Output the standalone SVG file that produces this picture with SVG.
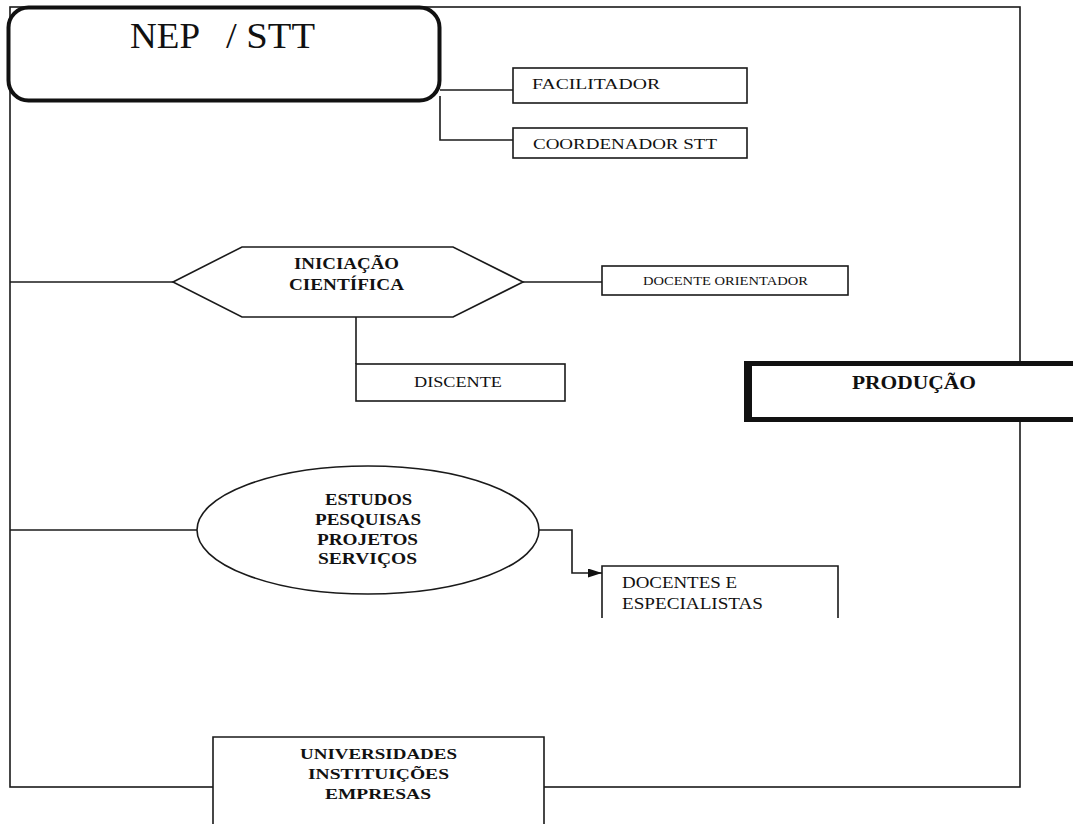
<svg xmlns="http://www.w3.org/2000/svg" width="1073" height="824" viewBox="0 0 1073 824">
  <defs>
    <style>
      .line { fill: none; stroke: #1a1a1a; stroke-width: 1.6; }
      .box { fill: #ffffff; stroke: #1a1a1a; stroke-width: 1.6; }
      .txt { font-family: "Liberation Serif", "Times New Roman", serif; fill: #111111; }
      .b { font-weight: bold; }
    </style>
    <marker id="arrow" markerUnits="userSpaceOnUse" markerWidth="14" markerHeight="9" refX="14" refY="4.5" orient="auto">
      <path d="M0,0 L14,4.5 L0,9 Z" fill="#111111"/>
    </marker>
  </defs>

  <rect x="0" y="0" width="1073" height="824" fill="#ffffff"/>

  <!-- outer frame -->
  <g id="frame">
    <rect class="line" x="10" y="7" width="1010" height="780"/>
  </g>

  <!-- connectors -->
  <g id="connectors">
    <path class="line" d="M440,90 H513"/>
    <path class="line" d="M440,96 V140 H513"/>
    <path class="line" d="M10,282 H173"/>
    <path class="line" d="M523,282 H602"/>
    <path class="line" d="M356,317 V364"/>
    <path class="line" d="M10,530 H197"/>
    <path class="line" d="M539,530 H572 V573 H602" stroke-width="2.2" marker-end="url(#arrow)"/>
  </g>

  <g id="nep-stt">
    <rect x="8.5" y="7.5" width="431" height="93" rx="20" fill="#ffffff" stroke="#111111" stroke-width="4"/>
    <text class="txt" font-size="36" y="48"><tspan x="130" textLength="70" lengthAdjust="spacingAndGlyphs">NEP</tspan><tspan x="226" textLength="89" lengthAdjust="spacingAndGlyphs">/ STT</tspan></text>
  </g>

  <g id="facilitador">
    <rect class="box" x="513" y="68" width="234" height="35"/>
    <text class="txt" font-size="15" x="532" y="89" textLength="128" lengthAdjust="spacingAndGlyphs">FACILITADOR</text>
  </g>

  <g id="coordenador">
    <rect class="box" x="513" y="128" width="234" height="30"/>
    <text class="txt" font-size="15" x="533" y="149" textLength="184" lengthAdjust="spacingAndGlyphs">COORDENADOR STT</text>
  </g>

  <g id="iniciacao">
    <polygon class="box" points="173,282 242,247 453,247 523,282 453,317 242,317"/>
    <text class="txt b" font-size="16" x="294" y="269" textLength="105" lengthAdjust="spacingAndGlyphs">INICIAÇÃO</text>
    <text class="txt b" font-size="16" x="289" y="290" textLength="115" lengthAdjust="spacingAndGlyphs">CIENTÍFICA</text>
  </g>

  <g id="docente-orientador">
    <rect class="box" x="602" y="266" width="246" height="29"/>
    <text class="txt" font-size="12.5" x="643" y="285" textLength="165" lengthAdjust="spacingAndGlyphs">DOCENTE ORIENTADOR</text>
  </g>

  <g id="discente">
    <rect class="box" x="356" y="364" width="209" height="37"/>
    <text class="txt" font-size="15" x="414" y="387" textLength="88" lengthAdjust="spacingAndGlyphs">DISCENTE</text>
  </g>

  <g id="producao">
    <rect x="746.5" y="363.5" width="340" height="56" fill="#ffffff" stroke="#111111" stroke-width="5"/>
    <line x1="750.5" y1="363" x2="750.5" y2="420" stroke="#111111" stroke-width="3"/>
    <text class="txt b" font-size="18" x="852" y="389" textLength="124" lengthAdjust="spacingAndGlyphs">PRODUÇÃO</text>
  </g>

  <g id="estudos">
    <ellipse class="box" cx="368" cy="530" rx="171" ry="64" stroke-width="2"/>
    <text class="txt b" font-size="16" x="325" y="505" textLength="87" lengthAdjust="spacingAndGlyphs">ESTUDOS</text>
    <text class="txt b" font-size="16" x="315" y="525" textLength="106" lengthAdjust="spacingAndGlyphs">PESQUISAS</text>
    <text class="txt b" font-size="16" x="317" y="545" textLength="101" lengthAdjust="spacingAndGlyphs">PROJETOS</text>
    <text class="txt b" font-size="16" x="318" y="564" textLength="99" lengthAdjust="spacingAndGlyphs">SERVIÇOS</text>
  </g>

  <g id="docentes-especialistas">
    <rect x="602" y="566" width="236" height="52" fill="#ffffff"/>
    <path class="line" d="M602,618 V566 H838 V618"/>
    <text class="txt" font-size="16" x="622" y="588" textLength="115" lengthAdjust="spacingAndGlyphs">DOCENTES E</text>
    <text class="txt" font-size="16" x="622" y="609" textLength="141" lengthAdjust="spacingAndGlyphs">ESPECIALISTAS</text>
  </g>

  <g id="universidades">
    <rect x="213" y="737" width="331" height="90" fill="#ffffff"/>
    <path class="line" d="M213,826 V737 H544 V826"/>
    <text class="txt b" font-size="15" x="300" y="759" textLength="157" lengthAdjust="spacingAndGlyphs">UNIVERSIDADES</text>
    <text class="txt b" font-size="15" x="308" y="779" textLength="141" lengthAdjust="spacingAndGlyphs">INSTITUIÇÕES</text>
    <text class="txt b" font-size="15" x="325" y="799" textLength="106" lengthAdjust="spacingAndGlyphs">EMPRESAS</text>
  </g>
</svg>
